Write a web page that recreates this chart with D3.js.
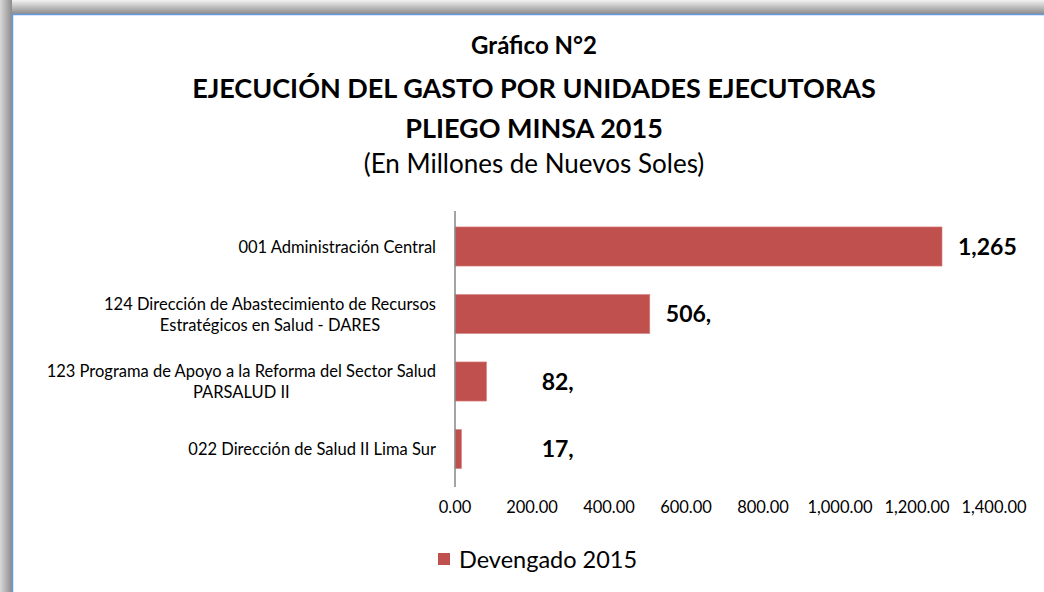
<!DOCTYPE html>
<html lang="es">
<head>
<meta charset="UTF-8">
<title>Gráfico N°2</title>
<script src="https://d3js.org/d3.v7.min.js"></script>
<style>
  body { margin: 0; background: #fff; }
  svg text { font-family: Lato, "Open Sans", sans-serif; fill: #000; }
</style>
</head>
<body>
<div id="chart"></div>
<script>
// data
const categories = [
  "001 Administración Central",
  "124 Dirección de Abastecimiento de Recursos|Estratégicos en Salud - DARES",
  "123 Programa de Apoyo a la Reforma del Sector Salud|PARSALUD II",
  "022 Dirección de Salud II Lima Sur"
];
const values = [1265, 506, 82, 17];
const valueLabels = ["1,265", "506,", "82,", "17,"];
const xTicks = [0, 200, 400, 600, 800, 1000, 1200, 1400];
const seriesName = "Devengado 2015";

const W = 1044, H = 592;
const barColor = "#C0504D";

const svg = d3.select("#chart").append("svg")
  .attr("width", W).attr("height", H);

// frame with shadow
const defs = svg.append("defs");
const gTop = defs.append("linearGradient").attr("id", "shTop")
  .attr("x1", 0).attr("y1", 0).attr("x2", 0).attr("y2", 1);
gTop.append("stop").attr("offset", "0%").attr("stop-color", "#f2f2f2");
gTop.append("stop").attr("offset", "100%").attr("stop-color", "#8c8c8c");
const gLeft = defs.append("linearGradient").attr("id", "shLeft")
  .attr("x1", 0).attr("y1", 0).attr("x2", 1).attr("y2", 0);
gLeft.append("stop").attr("offset", "0%").attr("stop-color", "#d8d8d8");
gLeft.append("stop").attr("offset", "100%").attr("stop-color", "#8c8c8c");

svg.append("rect").attr("x", 0).attr("y", 0).attr("width", W).attr("height", 14)
  .attr("fill", "url(#shTop)");
svg.append("rect").attr("x", 0).attr("y", 0).attr("width", 12).attr("height", H)
  .attr("fill", "url(#shLeft)");
svg.append("rect").attr("x", 12.5).attr("y", 14.5).attr("width", W + 10).attr("height", H + 10)
  .attr("fill", "#fff").attr("stroke", "#6699dd").attr("stroke-width", 1.5);

// titles
const cx = 534;
svg.append("text").attr("x", cx).attr("y", 54).attr("text-anchor", "middle")
  .style("font-size", "24px").style("font-weight", "bold").text("Gráfico N°2");
svg.append("text").attr("x", cx).attr("y", 98).attr("text-anchor", "middle")
  .style("font-size", "27px").style("font-weight", "bold")
  .text("EJECUCIÓN DEL GASTO POR UNIDADES EJECUTORAS");
svg.append("text").attr("x", cx).attr("y", 138).attr("text-anchor", "middle")
  .style("font-size", "27px").style("font-weight", "bold").text("PLIEGO MINSA 2015");
svg.append("text").attr("x", cx).attr("y", 173).attr("text-anchor", "middle")
  .style("font-size", "26px").text("(En Millones de Nuevos Soles)");

// scales
const x = d3.scaleLinear().domain([0, 1400]).range([455, 994]);
const y = d3.scaleBand().domain(categories).range([212.75, 482.75])
  .paddingInner(0.42).paddingOuter(0.21);

// bars
svg.selectAll(".bar").data(values).join("rect")
  .attr("class", "bar")
  .attr("x", x(0))
  .attr("y", (d, i) => y(categories[i]))
  .attr("width", d => x(d) - x(0))
  .attr("height", y.bandwidth())
  .attr("fill", barColor)
  .attr("stroke", "#d98a88").attr("stroke-width", 0.6);

// vertical axis line
svg.append("line").attr("x1", x(0)).attr("x2", x(0))
  .attr("y1", 211).attr("y2", 487)
  .attr("stroke", "#868686").attr("stroke-width", 1.5);

// x tick labels
svg.selectAll(".xt").data(xTicks).join("text")
  .attr("class", "xt")
  .attr("x", d => x(d)).attr("y", 513)
  .attr("text-anchor", "middle")
  .style("font-size", "16.5px")
  .text(d => d3.format(",.2f")(d));

// category labels (multi-line blocks right aligned, lines centred)
const labelRight = 436;
categories.forEach((c, i) => {
  const lines = c.split("|");
  const yc = y(c) + y.bandwidth() / 2;
  const lh = 21;
  const g = svg.append("g");
  const texts = lines.map((l, j) => g.append("text")
    .attr("y", yc + (j - (lines.length - 1) / 2) * lh + 6)
    .style("font-size", "16.5px")
    .attr("text-anchor", "middle")
    .text(l));
  const maxW = d3.max(texts, t => t.node().getComputedTextLength());
  texts.forEach(t => t.attr("x", labelRight - maxW / 2));
});

// value labels (short bars keep their label at a minimum offset, as in the original)
svg.selectAll(".vl").data(values).join("text")
  .attr("class", "vl")
  .attr("x", d => Math.max(x(d) + 16, x(225)))
  .attr("y", (d, i) => y(categories[i]) + y.bandwidth() / 2 + 8)
  .style("font-size", "23px").style("font-weight", "bold")
  .text((d, i) => valueLabels[i]);

// legend
svg.append("rect").attr("x", 438).attr("y", 553).attr("width", 12).attr("height", 12)
  .attr("fill", barColor);
svg.append("text").attr("x", 459).attr("y", 568)
  .style("font-size", "23.5px").text(seriesName);
</script>
</body>
</html>
